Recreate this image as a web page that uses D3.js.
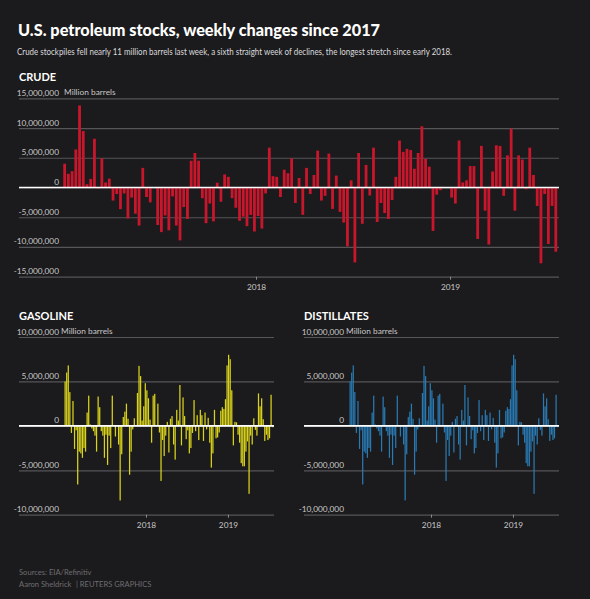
<!DOCTYPE html>
<html><head><meta charset="utf-8">
<script src="https://cdn.jsdelivr.net/npm/d3@7"></script>
<style>
html,body{margin:0;padding:0;background:#1b1a1c;}
svg{display:block;font-family:Lato,"Noto Sans",sans-serif;}
</style></head><body>
<svg id="chart" width="590" height="599"></svg>
<script>
// ---- data (weekly changes, million barrels) ----
const firstWeek = "2017-01-06";
const crudeValues = [4.0,2.3,2.75,6.4,13.8,9.5,0.55,1.45,8.2,-0.2,4.9,0.85,1.5,-2.2,-1.1,-3.65,-1.0,-5.2,-1.7,-4.4,
  -6.4,3.3,-1.6,-2.5,0,-6.3,-7.5,-4.7,-7.2,-1.5,-6.4,-8.9,-3.3,-5.3,4.5,5.8,4.5,-1.8,-6.0,-2.7,
  -5.7,0.8,-2.4,2.2,1.8,-1.8,-3.4,-5.6,-4.9,-6.5,-4.6,-7.4,-4.8,-6.9,-1.0,6.7,1.9,1.8,-1.6,3.0,
  2.4,4.9,-2.6,1.6,-4.6,3.3,-1.1,2.1,6.2,-2.2,-1.4,5.7,-3.6,2.0,-4.1,-5.9,-9.9,1.2,-12.6,5.8,
  -6.1,3.8,-1.35,6.7,-5.8,-2.6,-4.3,-5.3,-2.1,1.8,7.9,6.0,6.5,6.3,3.15,5.8,10.3,4.8,3.5,-7.3,
  -1.2,-0.45,0,0,-1.7,-2.7,7.9,0.85,1.2,3.6,3.6,-8.65,7.0,-3.9,-9.6,2.7,7.1,7.0,-1.4,5.4,
  9.9,-3.9,5.4,4.7,-0.3,6.7,2.1,-3.1,-12.75,-1.1,-9.5,-3.1,-10.8];
const gasolineValues = [5.0,6.0,6.8,3.8,-0.8,2.8,-2.6,-0.5,-6.6,-2.9,-3.1,-3.6,-2.5,-2.9,1.5,3.4,0.15,-0.3,-0.6,-1.1,
  -2.9,3.3,2.1,-0.6,-1.1,-3.6,-1.0,-4.4,-1.1,-2.5,3.4,0,-1.2,0,-2.1,-8.4,-3.2,1.0,1.6,2.5,
  0.8,-5.5,-2.9,-0.4,0.85,0,3.7,6.75,5.6,0.6,2.2,4.8,4.0,3.1,0.7,-1.9,3.4,3.6,0.1,2.5,
  -0.75,-6.2,-1.6,-3.4,-1.1,0.45,-3.0,0.8,1.1,-2.1,-3.8,1.8,0.6,4.6,-2.2,3.2,1.1,-1.5,-0.5,-3.1,
  -2.5,-0.8,2.9,-0.6,1.2,-1.6,1.8,1.2,-1.7,1.5,-0.4,0.9,-1.9,-4.7,-3.1,1.8,-1.4,-1.3,-0.75,1.7,
  2.1,1.9,3.0,6.8,8.0,7.5,4.0,-2.2,0.45,0.4,-1.0,-1.9,-4.2,-4.55,-4.55,-2.9,-1.75,-7.65,-1.1,-2.1,
  0.85,-0.45,-1.1,3.65,2.2,3.1,0.75,-1.7,-1.0,-1.6,-1.4,3.5,-0.15];
const distillatesValues = [5.0,6.0,6.8,3.8,-0.8,2.8,-2.6,-0.5,-6.6,-2.9,-3.1,-3.6,-2.5,-2.9,1.5,3.4,0.15,-0.3,-0.6,-1.1,
  -2.9,3.3,2.1,-0.6,-1.1,-3.6,-1.0,-4.4,-1.1,-2.5,3.4,0,-1.2,0,-2.1,-8.4,-3.2,1.0,1.6,2.5,
  0.8,-5.5,-2.9,-0.4,0.85,0,3.7,6.75,5.6,0.6,2.2,4.8,4.0,3.1,0.7,-1.9,3.4,3.6,0.1,2.5,
  -0.75,-6.2,-1.6,-3.4,-1.1,0.45,-3.0,0.8,1.1,-2.1,-3.8,1.8,0.6,4.6,-2.2,3.2,1.1,-1.5,-0.5,-3.1,
  -2.5,-0.8,2.9,-0.6,1.2,-1.6,1.8,1.2,-1.7,1.5,-0.4,0.9,-1.9,-4.7,-3.1,1.8,-1.4,-1.3,-0.75,1.7,
  2.1,1.9,3.0,6.8,8.0,7.5,4.0,-2.2,0.45,0.4,-1.0,-1.9,-4.2,-4.55,-4.55,-2.9,-1.75,-7.65,-1.1,-2.1,
  0.85,-0.45,-1.1,3.65,2.2,3.1,0.75,-1.7,-1.0,-1.6,-1.4,3.5,-0.15];
const crudeTicks = [-15000000,-10000000,-5000000,0,5000000,10000000,15000000];
const productTicks = [-10000000,-5000000,0,5000000,10000000];
const yearTicks = ["2018-01-01","2019-01-01"];
const xDomain = ["2017-01-01","2019-07-25"];
const unitLabel = "Million barrels";

// ---- drawing ----
const svg = d3.select("#chart");
const BG = "#1b1a1c";
svg.append("rect").attr("width",590).attr("height",599).attr("fill",BG);

const parse = d3.utcParse("%Y-%m-%d");
const start = parse(firstWeek);
const fmt = d3.formatLocale({decimal:".",thousands:",",grouping:[3],currency:["$",""],minus:"-"}).format(",");

svg.append("text").attr("x",18).attr("y",36)
  .attr("fill","#ffffff").attr("font-size",17.5).attr("font-weight",900)
  .attr("textLength",362).attr("lengthAdjust","spacingAndGlyphs")
  .text("U.S. petroleum stocks, weekly changes since 2017");
svg.append("text").attr("x",17).attr("y",55)
  .attr("fill","#dcdcdc").attr("font-size",8.6)
  .attr("textLength",435).attr("lengthAdjust","spacingAndGlyphs")
  .text("Crude stockpiles fell nearly 11 million barrels last week, a sixth straight week of declines, the longest stretch since early 2018.");

function panel(c) {
  const g = svg.append("g");
  const x = d3.scaleUtc().domain(xDomain.map(parse)).range([c.left + c.pad, c.right]);
  const y = d3.scaleLinear().domain([c.ticks[0], c.ticks[c.ticks.length-1]]).range([c.bottom, c.top]);
  const dates = c.values.map((v,i) => d3.utcDay.offset(start, 7*i));

  g.append("text").attr("x",c.left).attr("y",c.titleY)
    .attr("fill","#ffffff").attr("font-size",c.titleSize).attr("font-weight",700)
    .text(c.title);

  // y axis with gridlines
  const ya = g.append("g").attr("transform",`translate(${c.left},0)`)
    .call(d3.axisRight(y).tickValues(c.ticks).tickSize(c.right - c.left).tickFormat(fmt));
  ya.select(".domain").remove();
  ya.selectAll(".tick line").attr("stroke","#565558").attr("stroke-width",1.2);
  ya.selectAll(".tick text").attr("x",c.labelEnd).attr("dy",-3).attr("text-anchor","end")
    .attr("fill","#c8c8c8").attr("font-size",8.3).attr("font-family","Lato, sans-serif");
  g.append("text").attr("x",c.left + c.labelEnd + c.unitGap).attr("y",y(c.ticks[c.ticks.length-1]) - 3)
    .attr("fill","#c8c8c8").attr("font-size",8.3).text(unitLabel);

  // bars
  g.append("g").selectAll("rect").data(c.values).join("rect")
    .attr("x",(d,i) => x(dates[i]) - c.barW/2)
    .attr("width",c.barW)
    .attr("y",d => y(Math.max(0,d*1e6)))
    .attr("height",d => Math.abs(y(d*1e6) - y(0)))
    .attr("fill",c.color);

  // zero line
  g.append("line").attr("x1",c.left).attr("x2",c.right).attr("y1",y(0)).attr("y2",y(0))
    .attr("stroke","#ffffff").attr("stroke-width",1.6);

  // x axis
  const xa = g.append("g").attr("transform",`translate(0,${c.bottom})`)
    .call(d3.axisBottom(x).tickValues(yearTicks.map(parse)).tickSize(3).tickPadding(4).tickFormat(d3.utcFormat("%Y")));
  xa.select(".domain").remove();
  xa.selectAll(".tick line").attr("stroke","#8a8a8a");
  xa.selectAll(".tick text").attr("fill","#c8c8c8").attr("font-size",8.3).attr("font-family","Lato, sans-serif");
}

panel({values:crudeValues, color:"#c8172c", title:"CRUDE", titleY:81, titleSize:11,
  left:19, right:559, pad:43, top:98.3, bottom:276.7, ticks:crudeTicks, barW:2.8, labelEnd:40, unitGap:5});
panel({values:gasolineValues, color:"#d9d31c", title:"GASOLINE", titleY:320, titleSize:11,
  left:19, right:274, pad:45, top:337, bottom:514.7, ticks:productTicks, barW:1.25, labelEnd:40, unitGap:2});
panel({values:distillatesValues, color:"#2a79b1", title:"DISTILLATES", titleY:320, titleSize:11,
  left:304, right:559, pad:45, top:337, bottom:514.7, ticks:productTicks, barW:1.25, labelEnd:40, unitGap:2});

// footer
svg.append("text").attr("x",19).attr("y",575).attr("fill","#6f6e71").attr("font-size",7.6).text("Sources: EIA/Refinitiv");
svg.append("text").attr("x",19).attr("y",586.5).attr("fill","#6f6e71").attr("font-size",7.6).text("Aaron Sheldrick");
svg.append("text").attr("x",76).attr("y",586.5).attr("fill","#6f6e71").attr("font-size",7.6).text("| REUTERS GRAPHICS");
</script>
</body></html>
